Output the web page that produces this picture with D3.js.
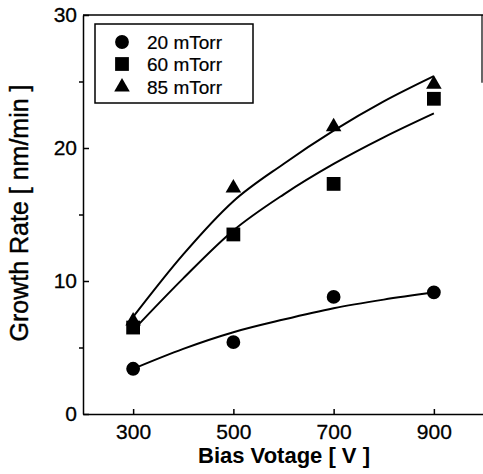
<!DOCTYPE html>
<html lang="en">
<head>
  <meta charset="UTF-8" />
  <title>Growth Rate vs Bias Voltage</title>
  <script src="https://d3js.org/d3.v7.min.js"></script>
  <style>
    body {
      margin: 0;
      padding: 0;
      background: #fff;
    }
    svg {
      display: block;
      font-family: "Liberation Sans", Arial, sans-serif;
    }
    .axis path, .axis line {
      stroke: #000;
      stroke-width: 1.5px;
    }
    .axis text {
      font-size: 21px;
      fill: #000;
      stroke: #000;
      stroke-width: 0.3px;
    }
  </style>
</head>
<body>
  <svg width="483" height="474"></svg>

  <script>
    // measured points
    const voltages = [300, 500, 700, 900];
    const rate20 = [3.4, 5.4, 8.8, 9.15];
    const rate60 = [6.5, 13.5, 17.3, 23.7];
    const rate85 = [7.0, 17.0, 21.6, 24.8];

    // fitted curves
    const fitVoltages = [300, 400, 500, 600, 700, 800, 900];
    const fit20 = [3.4, 4.9, 6.15, 7.1, 7.95, 8.6, 9.15];
    const fit60 = [6.3, 10.2, 13.8, 16.5, 18.8, 20.8, 22.6];
    const fit85 = [7.3, 12.0, 16.0, 18.8, 21.3, 23.5, 25.4];

    const xTicks = [300, 500, 700, 900];
    const yTicks = [0, 10, 20, 30];
    const yMinorTicks = [5, 15, 25];
    const legendLabels = ["20 mTorr", "60 mTorr", "85 mTorr"];

    const series = [
      { name: legendLabels[0], values: rate20, fit: fit20, symbol: d3.symbolCircle, size: 150 },
      { name: legendLabels[1], values: rate60, fit: fit60, symbol: d3.symbolSquare, size: 190 },
      { name: legendLabels[2], values: rate85, fit: fit85, symbol: d3.symbolTriangle, size: 105 }
    ];

    const svg = d3.select("svg");

    const x = d3.scaleLinear().domain([200, 1000]).range([83, 484]);
    const y = d3.scaleLinear().domain([0, 30]).range([414, 15]);

    // frame: top line and the short bit of right edge
    svg.append("line")
      .attr("x1", 83).attr("x2", 483)
      .attr("y1", y(30)).attr("y2", y(30))
      .attr("stroke", "#000").attr("stroke-width", 1.5);
    svg.append("line")
      .attr("x1", 482).attr("x2", 482)
      .attr("y1", y(30)).attr("y2", y(24.9))
      .attr("stroke", "#000").attr("stroke-width", 1.2);

    // x axis
    svg.append("g")
      .attr("class", "axis")
      .attr("transform", `translate(0,${y(0)})`)
      .call(d3.axisBottom(x).tickValues(xTicks).tickSize(-5).tickSizeOuter(0).tickPadding(10));

    // y axis, major ticks point inward, minor ones outward
    svg.append("g")
      .attr("class", "axis")
      .attr("transform", `translate(${x(200)},0)`)
      .call(d3.axisLeft(y).tickValues(yTicks).tickSize(-6).tickSizeOuter(0).tickPadding(6));
    svg.append("g")
      .attr("class", "axis")
      .attr("transform", `translate(${x(200)},0)`)
      .call(d3.axisLeft(y).tickValues(yMinorTicks).tickSize(4).tickSizeOuter(0).tickFormat(""))
      .select(".domain").remove();

    // axis titles
    svg.append("text")
      .attr("x", 284).attr("y", 463)
      .attr("text-anchor", "middle")
      .attr("font-size", 22)
      .attr("font-weight", "bold")
      .text("Bias Votage [ V ]");

    svg.append("text")
      .attr("transform", "translate(28,213) rotate(-90)")
      .attr("text-anchor", "middle")
      .attr("font-size", 25)
      .attr("stroke", "#000").attr("stroke-width", 0.4)
      .text("Growth Rate [ nm/min ]");

    // fit curves
    const line = d3.line()
      .x((d, i) => x(fitVoltages[i]))
      .y(d => y(d))
      .curve(d3.curveMonotoneX);

    svg.selectAll(".fit")
      .data(series)
      .enter().append("path")
      .attr("class", "fit")
      .attr("d", d => line(d.fit))
      .attr("fill", "none")
      .attr("stroke", "#000")
      .attr("stroke-width", 2);

    // markers
    series.forEach(s => {
      svg.selectAll(null)
        .data(s.values)
        .enter().append("path")
        .attr("d", d3.symbol().type(s.symbol).size(s.size))
        .attr("transform", (d, i) => `translate(${x(voltages[i])},${y(d)})`)
        .attr("fill", "#000");
    });

    // legend
    const legend = svg.append("g");
    legend.append("rect")
      .attr("x", 95).attr("y", 24)
      .attr("width", 158).attr("height", 79)
      .attr("fill", "#fff")
      .attr("stroke", "#000").attr("stroke-width", 1.5);

    const rowY = [42, 64, 87];
    series.forEach((s, i) => {
      legend.append("path")
        .attr("d", d3.symbol().type(s.symbol).size(s.size))
        .attr("transform", `translate(122,${rowY[i]})`)
        .attr("fill", "#000");
      legend.append("text")
        .attr("x", 147).attr("y", rowY[i] + 7)
        .attr("font-size", 19)
        .attr("stroke", "#000").attr("stroke-width", 0.2)
        .text(s.name);
    });
  </script>
</body>
</html>
